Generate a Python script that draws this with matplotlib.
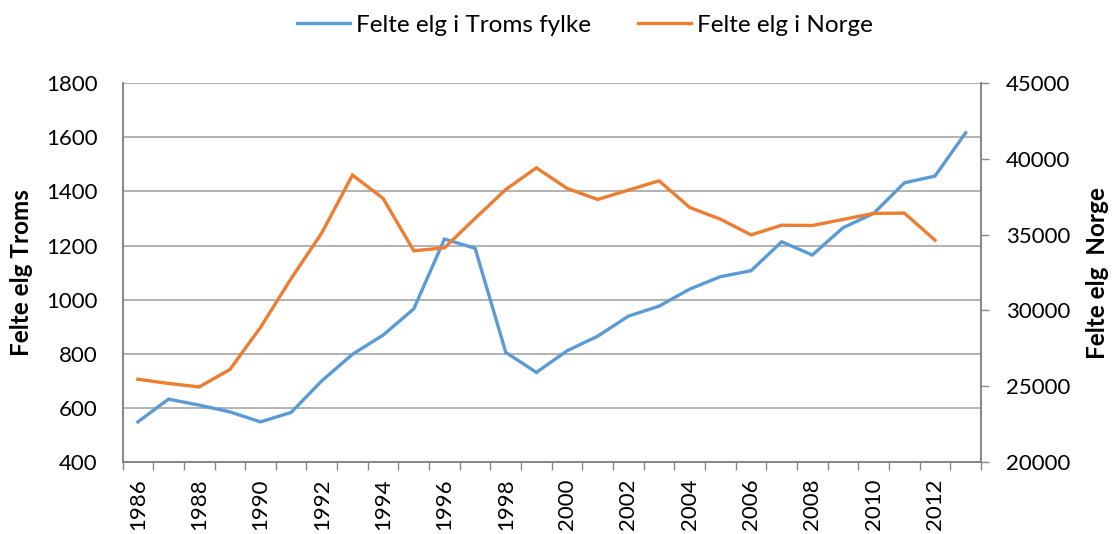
import matplotlib
matplotlib.use("Agg")
import matplotlib.pyplot as plt
import numpy as np

years = list(range(1986, 2014))
troms = [548, 632, 610, 585, 548, 583, 700, 798, 869, 966, 1224, 1190, 805, 731,
         811, 865, 939, 976, 1039, 1085, 1107, 1214, 1165, 1266, 1319, 1432, 1457, 1617]
norge = [25460, 25180, 24950, 26100, 28880, 32110, 35120, 38940, 37400, 33940, 34140,
         36080, 37990, 39420, 38060, 37330, 37950, 38560, 36800, 36030, 34990, 35630,
         35610, 36010, 36410, 36430, 34640]
left_ticks = [400, 600, 800, 1000, 1200, 1400, 1600, 1800]
right_ticks = [20000, 25000, 30000, 35000, 40000, 45000]
label_troms = "Felte elg i Troms fylke"
label_norge = "Felte elg i Norge"
ylabel_left = "Felte elg Troms"
ylabel_right = "Felte elg  Norge"

plt.rcParams['font.family'] = ['Lato', 'DejaVu Sans']

BLUE = '#5B9BD5'
ORANGE = '#ED7D31'
GRID = '#a6a6a6'
SPINE = '#868686'
FS = 16
FS_LEG = 17.5
FS_LAB = 17.5

fig = plt.figure(figsize=(11.14, 5.34), dpi=100)
ax1 = fig.add_axes([0.110, 0.135, 0.7706, 0.709])
ax2 = ax1.twinx()

x = np.arange(len(years))
l1, = ax1.plot(x, troms, color=BLUE, lw=2.4, solid_joinstyle='miter', label=label_troms)
l2, = ax2.plot(x[:len(norge)], norge, color=ORANGE, lw=2.4, solid_joinstyle='miter', label=label_norge)

ax1.set_xlim(-0.5, len(years) - 0.5)
ax1.set_ylim(400, 1800)
ax2.set_ylim(20000, 45000)
ax1.set_yticks(left_ticks)
ax2.set_yticks(right_ticks)

major = [i for i, y in enumerate(years) if y % 2 == 0]
ax1.set_xticks(major)
ax1.set_xticklabels([str(years[i]) for i in major], rotation=90, fontsize=FS)
ax1.set_xticks(np.arange(-0.5, len(years)), minor=True)
ax1.tick_params(axis='x', which='major', length=0, pad=12)
ax1.tick_params(axis='x', which='minor', length=6, color=SPINE, width=1)

ax1.tick_params(axis='y', length=0, labelsize=FS, pad=18)
ax2.tick_params(axis='y', length=6, color=SPINE, width=1, labelsize=FS, pad=12)

ax1.yaxis.grid(True, color=GRID, lw=1.2)
ax1.set_axisbelow(True)

for ax in (ax1, ax2):
    for s in ('left', 'right', 'bottom'):
        ax.spines[s].set_color(SPINE)
        ax.spines[s].set_linewidth(1.2)
    ax.spines['top'].set_visible(False)

ax1.set_ylabel(ylabel_left, fontsize=FS_LAB, fontweight='bold', labelpad=9)
ax2.set_ylabel(ylabel_right, fontsize=FS_LAB, fontweight='bold', labelpad=11)

fig.legend(handles=[l1, l2], loc='center', bbox_to_anchor=(0.525, 0.953), ncol=2,
           frameon=False, fontsize=FS_LEG, handlelength=2.2, columnspacing=1.9,
           handletextpad=0.25)

fig.savefig('out.png', dpi=100)
